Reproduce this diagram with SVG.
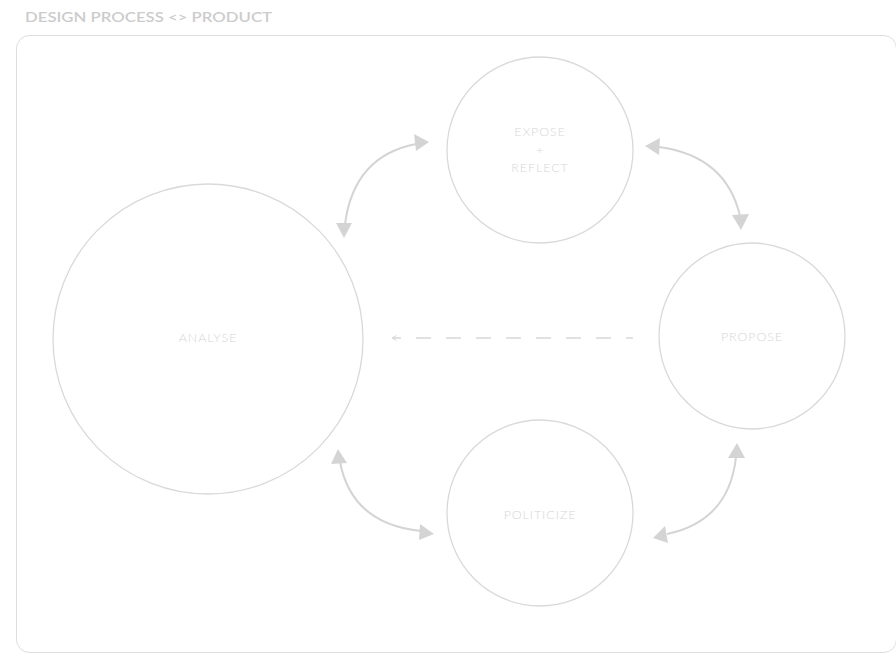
<svg xmlns="http://www.w3.org/2000/svg" width="896" height="655" viewBox="0 0 896 655">
<style>
.node circle{fill:none;stroke:#d9d9d9;stroke-width:1.3}
.lbl{font-family:Lato,"Noto Sans",sans-serif;font-size:12.5px;letter-spacing:0.9px;fill:#d6d6d6;text-anchor:middle;dominant-baseline:central;font-weight:300}
.arc{fill:none;stroke:#d4d4d4;stroke-width:2}
</style>
<defs>
<marker id="sm" markerWidth="7" markerHeight="7" refX="6" refY="3.5" orient="auto" markerUnits="userSpaceOnUse" viewBox="0 0 7 7">
<path d="M1.5,1 L6,3.5 L1.5,6" fill="none" stroke="#d8d8d8" stroke-width="1"/>
</marker>
</defs>
<text x="25" y="22" font-family="Lato,'Noto Sans',sans-serif" font-size="14" font-weight="600" fill="#cccccc" textLength="247" lengthAdjust="spacingAndGlyphs">DESIGN PROCESS &lt;&gt; PRODUCT</text>
<rect x="16.5" y="35.5" width="880" height="617" rx="13" fill="none" stroke="#dddddd" stroke-width="1"/>
<g id="analyse" class="node"><circle cx="208" cy="339" r="155"/><text class="lbl" x="208" y="337">ANALYSE</text></g>
<g id="expose" class="node"><circle cx="540" cy="150" r="93"/><text class="lbl" x="540" y="131">EXPOSE</text><text class="lbl" x="540" y="149" font-size="9">+</text><text class="lbl" x="540" y="167">REFLECT</text></g>
<g id="propose" class="node"><circle cx="752" cy="336" r="93"/><text class="lbl" x="752" y="336">PROPOSE</text></g>
<g id="politicize" class="node"><circle cx="540" cy="513" r="93"/><text class="lbl" x="540" y="514">POLITICIZE</text></g>
<g id="connectors">
<path class="arc" d="M345 224 Q354 156 416 144"/>
<polygon points="344,238 336,223 352,223" fill="#d4d4d4"/>
<polygon points="429,142 414,134 416,151" fill="#d4d4d4"/>
<path class="arc" d="M659 147 Q726 156 740 216"/>
<polygon points="645,146 660,138 659,155" fill="#d4d4d4"/>
<polygon points="741,230 732,215 749,214" fill="#d4d4d4"/>
<path class="arc" d="M340 462 Q352 524 421 531"/>
<polygon points="338,449 331,464 347,463" fill="#d4d4d4"/>
<polygon points="434,534 420,524 419,540" fill="#d4d4d4"/>
<path class="arc" d="M736 457 Q729 521 667 534"/>
<polygon points="737,443 728,458 745,458" fill="#d4d4d4"/>
<polygon points="653,538 665,526 668,543" fill="#d4d4d4"/>
<path d="M633 338 L392 338" fill="none" stroke="#d8d8d8" stroke-width="1.3" stroke-dasharray="15 15" stroke-dashoffset="8" marker-end="url(#sm)"/>
</g>
</svg>
